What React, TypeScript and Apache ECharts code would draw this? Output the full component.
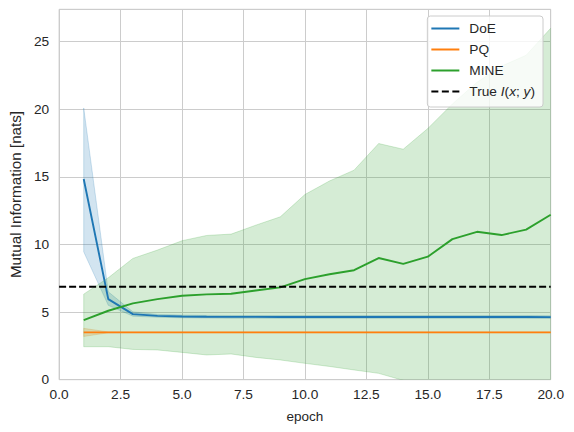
import React, { useEffect, useRef } from "react";
import * as echarts from "echarts";

const epochs = [1, 2, 3, 4, 5, 6, 7, 8, 9, 10, 11, 12, 13, 14, 15, 16, 17, 18, 19, 20];

const doeMean = [14.85, 5.96, 4.85, 4.72, 4.68, 4.66, 4.65, 4.65, 4.64, 4.64, 4.64, 4.64, 4.64, 4.64, 4.64, 4.64, 4.64, 4.64, 4.64, 4.63];
const doeLow = [9.46, 5.5, 4.7, 4.62, 4.58, 4.56, 4.55, 4.55, 4.54, 4.54, 4.54, 4.54, 4.54, 4.54, 4.54, 4.54, 4.54, 4.54, 4.54, 4.53];
const doeHigh = [20.1, 6.5, 5.02, 4.83, 4.78, 4.76, 4.75, 4.75, 4.74, 4.74, 4.74, 4.74, 4.74, 4.74, 4.74, 4.74, 4.74, 4.74, 4.74, 4.73];

const pqMean = [3.5, 3.5, 3.5, 3.5, 3.5, 3.5, 3.5, 3.5, 3.5, 3.5, 3.5, 3.5, 3.5, 3.5, 3.5, 3.5, 3.5, 3.5, 3.5, 3.5];
const pqLow = [3.2, 3.47, 3.48, 3.48, 3.48, 3.48, 3.48, 3.48, 3.48, 3.48, 3.48, 3.48, 3.48, 3.48, 3.48, 3.48, 3.48, 3.48, 3.48, 3.48];
const pqHigh = [3.8, 3.53, 3.52, 3.52, 3.52, 3.52, 3.52, 3.52, 3.52, 3.52, 3.52, 3.52, 3.52, 3.52, 3.52, 3.52, 3.52, 3.52, 3.52, 3.52];

const mineMean = [4.41, 5.1, 5.65, 5.96, 6.21, 6.31, 6.36, 6.6, 6.83, 7.44, 7.8, 8.1, 9.0, 8.57, 9.1, 10.4, 10.94, 10.7, 11.1, 12.2];
const mineLow = [2.44, 2.44, 2.24, 2.2, 2.02, 1.83, 1.9, 1.65, 1.46, 1.21, 0.98, 0.72, 0.47, -0.05, -0.6, -1.3, -1.6, -2.0, -2.4, -2.0];
const mineHigh = [6.33, 7.54, 8.97, 9.59, 10.28, 10.67, 10.77, 11.43, 12.05, 13.7, 14.7, 15.5, 17.47, 17.05, 18.58, 20.4, 22.0, 23.2, 24.0, 26.0];

const trueMI = 6.88;
const xRange = [0, 20];

const FONT = "Liberation Sans";
const TXT = "#262626";

function bandSeries(name: string, low: number[], high: number[], color: string) {
  return {
    name: name + "_band",
    type: "custom",
    silent: true,
    z: 1,
    data: epochs.map((e, i) => [e, low[i], high[i]]),
    encode: { x: 0, y: [1, 2] },
    renderItem: (params: any, api: any) => {
      if (params.dataIndex !== 0) return null;
      const upper = epochs.map((e, i) => api.coord([e, high[i]]));
      const lower = epochs.map((e, i) => api.coord([e, low[i]])).reverse();
      const cs = params.coordSys;
      return {
        type: "group",
        clipPath: { type: "rect", shape: { x: cs.x, y: cs.y, width: cs.width, height: cs.height } },
        children: [
          {
            type: "polygon",
            shape: { points: upper.concat(lower) },
            style: {
              fill: color,
              opacity: 0.2,
              stroke: color,
              lineWidth: 1,
            },
          },
        ],
      };
    },
  };
}

function meanSeries(name: string, vals: number[], color: string) {
  return {
    name,
    type: "line",
    data: epochs.map((e, i) => [e, vals[i]]),
    symbol: "none",
    lineStyle: { width: 1.9, color },
    itemStyle: { color },
    z: 3,
  };
}

const solidIcon = "path://M0,0h28v2h-28z";
const dashIcon = "path://M0,0h7v2h-7z M10.5,0h7v2h-7z M21,0h7v2h-7z";

export default function App() {
  const ref = useRef<HTMLDivElement>(null);
  useEffect(() => {
    if (!ref.current) return;
    const chart = echarts.init(ref.current, undefined, { renderer: "svg" });
    chart.setOption({
      animation: false,
      backgroundColor: "#ffffff",
      textStyle: { fontFamily: FONT, color: TXT },
      grid: {
        left: 55.7,
        right: 23.3,
        top: 9.3,
        bottom: 52.3,
        show: true,
        borderColor: "#cccccc",
        borderWidth: 1,
      },
      legend: {
        orient: "vertical",
        right: 31,
        top: 16,
        padding: [5, 8, 8, 4],
        itemWidth: 28,
        itemHeight: 2,
        itemGap: 6,
        backgroundColor: "rgba(255,255,255,0.8)",
        borderColor: "#cccccc",
        borderWidth: 1,
        borderRadius: 3,
        data: [
          { name: "DoE", icon: solidIcon },
          { name: "PQ", icon: solidIcon },
          { name: "MINE", icon: solidIcon },
          { name: "True", icon: dashIcon },
        ],
        formatter: (n: string) => (n === "True" ? "True {i|I}({i|x}; {i|y})" : n),
        textStyle: {
          fontFamily: FONT,
          fontSize: 13.7,
          color: TXT,
          lineHeight: 15,
          padding: [0, 0, 0, 5],
          rich: {
            i: { fontStyle: "italic", fontFamily: FONT, fontSize: 13.7, color: TXT, lineHeight: 15 },
          },
        },
      },
      xAxis: {
        type: "value",
        min: 0,
        max: 20,
        interval: 2.5,
        name: "epoch",
        nameLocation: "middle",
        nameGap: 30,
        nameTextStyle: { fontFamily: FONT, fontSize: 13.5, color: TXT },
        axisLine: { show: false },
        axisTick: { show: false },
        axisLabel: {
          margin: 8,
          fontFamily: FONT,
          fontSize: 13.7,
          color: TXT,
          formatter: (v: number) => v.toFixed(1),
        },
        splitLine: { show: true, lineStyle: { color: "#cccccc", width: 1 } },
      },
      yAxis: {
        type: "value",
        min: 0,
        max: 27.4,
        interval: 5,
        name: "Mutual Information [nats]",
        nameLocation: "middle",
        nameGap: 34,
        nameTextStyle: { fontFamily: FONT, fontSize: 15.2, color: TXT },
        axisLine: { show: false },
        axisTick: { show: false },
        axisLabel: {
          margin: 10,
          fontFamily: FONT,
          fontSize: 13.7,
          color: TXT,
          showMaxLabel: false,
          formatter: (v: number) => (Math.abs(v % 5) < 1e-9 ? String(v) : ""),
        },
        splitLine: { show: true, lineStyle: { color: "#cccccc", width: 1 } },
      },
      series: [
        bandSeries("DoE", doeLow, doeHigh, "#1f77b4"),
        bandSeries("PQ", pqLow, pqHigh, "#ff7f0e"),
        bandSeries("MINE", mineLow, mineHigh, "#2ca02c"),
        meanSeries("DoE", doeMean, "#1f77b4"),
        meanSeries("PQ", pqMean, "#ff7f0e"),
        meanSeries("MINE", mineMean, "#2ca02c"),
        {
          name: "True",
          type: "line",
          data: xRange.map((x) => [x, trueMI]),
          symbol: "none",
          lineStyle: { width: 1.9, color: "#000000", type: [7, 3] },
          itemStyle: { color: "#000000" },
          z: 4,
        },
      ],
    });
    return () => chart.dispose();
  }, []);
  return (
    <div
      ref={ref}
      style={{ position: "absolute", left: 0, top: 0, width: 574, height: 432 }}
    />
  );
}
